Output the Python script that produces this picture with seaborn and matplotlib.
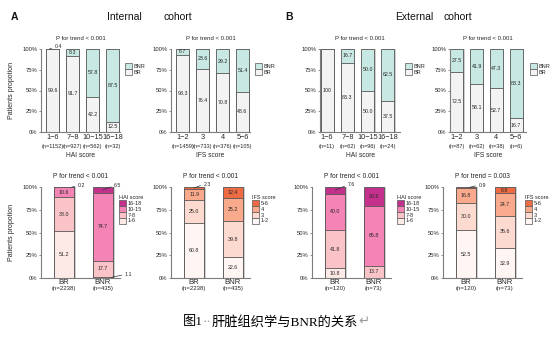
import numpy as np
import pandas as pd
import matplotlib
matplotlib.use("Agg")
import matplotlib.pyplot as plt
from matplotlib.patches import Patch
import seaborn as sns

# ---------------- data ----------------
hai_groups = ["1−6", "7−8", "10−15", "16−18"]
ifs_groups = ["1−2", "3", "4", "5−6"]

int_hai_n = [1152, 927, 562, 32]
int_hai_bnr = [0.4, 8.3, 57.8, 87.5]
int_hai_br = [99.6, 91.7, 42.2, 12.5]

int_ifs_n = [1459, 733, 376, 105]
int_ifs_bnr = [6.7, 23.6, 29.2, 51.4]
int_ifs_br = [93.3, 76.4, 70.8, 48.6]

ext_hai_n = [11, 62, 96, 24]
ext_hai_bnr = [0.0, 16.7, 50.0, 62.5]
ext_hai_br = [100.0, 83.3, 50.0, 37.5]

ext_ifs_n = [87, 62, 38, 6]
ext_ifs_bnr = [27.5, 41.9, 47.3, 83.3]
ext_ifs_br = [72.5, 58.1, 52.7, 16.7]

response_groups = ["BR", "BNR"]
int_response_n = [2238, 435]
ext_response_n = [120, 73]

hai_levels = ["1-6", "7-8", "10-15", "16-18"]
ifs_levels = ["1-2", "3", "4", "5-6"]

# share of each score level (lowest level first) within BR / BNR
int_hai_levels_br = [51.2, 38.0, 10.6, 0.2]
int_hai_levels_bnr = [1.1, 17.7, 74.7, 6.5]
int_ifs_levels_br = [60.8, 25.0, 11.9, 2.3]
int_ifs_levels_bnr = [22.6, 39.8, 25.2, 12.4]
ext_hai_levels_br = [10.8, 41.8, 40.0, 7.6]
ext_hai_levels_bnr = [0.0, 13.7, 65.8, 20.5]
ext_ifs_levels_br = [52.5, 30.0, 16.8, 0.9]
ext_ifs_levels_bnr = [32.9, 35.6, 24.7, 6.8]

p_texts = ["P for trend < 0.001", "P for trend < 0.001", "P for trend < 0.001", "P for trend < 0.001",
           "P for trend < 0.001", "P for trend < 0.001", "P for trend < 0.001", "P for trend = 0.003"]

# ---------------- style ----------------
sns.set_theme(style="ticks")
plt.rcParams["font.family"] = ["Liberation Sans", "Noto Sans CJK SC", "DejaVu Sans"]

EDGE = "#565656"
SPINE = "#7d7d7d"
TXT = "#262626"
SHADOW = "#cfcfcf"
C_BNR = "#c8e9e3"
C_BR = "#f3f3f3"
HAI_COLORS = ["#fde9e6", "#f9c3c8", "#f483b6", "#c3318c"]
IFS_COLORS = ["#fff5f2", "#fddacf", "#f9aa8c", "#ee6b44"]

W, H = 554, 341
fig = plt.figure(figsize=(W / 100, H / 100), dpi=100)


def px_axes(left, top, right, bottom):
    return fig.add_axes([left / W, 1 - bottom / H, (right - left) / W, (bottom - top) / H])


def fmt(v):
    return "100" if v >= 100 else f"{v:.1f}"


def style_axes(ax, xlim):
    ax.set_xlim(*xlim)
    ax.set_ylim(0, 100)
    sns.despine(ax=ax)
    for s in ("left", "bottom"):
        ax.spines[s].set_color(SPINE)
        ax.spines[s].set_linewidth(0.8)
    ax.set_yticks([0, 25, 50, 75, 100])
    ax.set_yticklabels(["0%", "25%", "50%", "75%", "100%"])
    ax.tick_params(axis="y", length=1.6, width=0.6, color=SPINE, pad=1, labelsize=4.2, labelcolor=TXT)
    ax.set_xlabel("")
    ax.set_ylabel("")


def add_legend(x, y, labels, colors, title=None):
    handles = [Patch(facecolor=c, edgecolor=EDGE, linewidth=0.5) for c in colors]
    fig.legend(handles=handles, labels=labels, loc="upper left",
               bbox_to_anchor=(x / W, 1 - y / H), bbox_transform=fig.transFigure,
               frameon=False, borderpad=0, borderaxespad=0, handletextpad=0.4,
               labelspacing=0, handlelength=1.2, handleheight=1.25,
               prop={"size": 4}, title=title, title_fontproperties={"size": 4},
               alignment="left", labelcolor=TXT)


def callout(ax, text, xy, xytext):
    ax.annotate(text, xy=xy, xytext=xytext, fontsize=3.8, color=TXT, ha="left", va="center",
                annotation_clip=False,
                arrowprops=dict(arrowstyle="-", lw=0.5, color="#333333",
                                shrinkA=0, shrinkB=0, relpos=(0, 0.5)))


def top_panel(box, xlim, cats, ns, br, bnr, xlabel, p_text, legend_xy, callouts=None):
    ax = px_axes(*box)
    total = np.add(br, bnr)
    df = pd.DataFrame({"group": cats, "total": total, "br": br})
    bar_kw = dict(edgecolor=EDGE, linewidth=0.6, width=0.65, saturation=1,
                  errorbar=None, clip_on=False, ax=ax)
    sns.barplot(data=df, x="group", y="total", color=C_BNR, **bar_kw)
    sns.barplot(data=df, x="group", y="br", color=C_BR, **bar_kw)
    x = np.arange(len(cats))
    ax.bar(x + 0.07, total, width=0.65, color=SHADOW, linewidth=0, zorder=0.5)
    style_axes(ax, xlim)
    ax.set_xticks(x)
    ax.set_xticklabels(cats)
    ax.tick_params(axis="x", length=0, pad=1.5, labelsize=5.3, labelcolor=TXT)
    callouts = callouts or {}
    for i in range(len(cats)):
        segs = [(br[i], br[i] / 2, 0), (bnr[i], br[i] + bnr[i] / 2, 1)]
        for v, yc, k in segs:
            if v == 0:
                continue
            if (i, k) in callouts:
                (xa, ya), (xt, yt) = callouts[(i, k)]
                callout(ax, fmt(v), (i + xa, ya), (i + xt, yt))
            else:
                ax.text(i, yc, fmt(v), ha="center", va="center", fontsize=3.8, color=TXT)
        ax.text(i, -0.17, f"(n={ns[i]})", transform=ax.get_xaxis_transform(),
                ha="center", va="center", fontsize=4.1, color=TXT)
    ax.text(0.5, -0.28, xlabel, transform=ax.transAxes, ha="center", va="center",
            fontsize=4.8, color=TXT)
    ax.text(0.5, 1.13, p_text, transform=ax.transAxes, ha="center", va="center",
            fontsize=4.3, color=TXT)
    add_legend(legend_xy[0], legend_xy[1], ["BNR", "BR"], [C_BNR, C_BR])
    return ax


def bottom_panel(box, xlim, lv_br, lv_bnr, ns, level_names, colors, legend_title,
                 p_text, legend_xy, callouts):
    ax = px_axes(*box)
    data = np.array([lv_br, lv_bnr])
    cum = np.cumsum(data, axis=1)
    bar_kw = dict(edgecolor=EDGE, linewidth=0.6, width=0.52, saturation=1,
                  errorbar=None, clip_on=False, ax=ax)
    # stack by drawing cumulative heights from the top level downwards
    for k in range(data.shape[1] - 1, -1, -1):
        df = pd.DataFrame({"resp": response_groups, "h": cum[:, k]})
        sns.barplot(data=df, x="resp", y="h", color=colors[k], **bar_kw)
    x = np.arange(len(response_groups))
    ax.bar(x + 0.05, cum[:, -1], width=0.52, color=SHADOW, linewidth=0, zorder=0.5)
    style_axes(ax, xlim)
    ax.set_xticks(x)
    ax.set_xticklabels(response_groups)
    ax.tick_params(axis="x", length=0, pad=0.8, labelsize=5.6, labelcolor=TXT)
    for i in range(data.shape[0]):
        for k in range(data.shape[1]):
            v = data[i, k]
            if v == 0:
                continue
            yc = cum[i, k] - v / 2
            if (i, k) in callouts:
                xa, (xt, yt) = callouts[(i, k)]
                callout(ax, fmt(v), (i + xa, yc), (i + xt, yt))
            else:
                ax.text(i, yc, fmt(v), ha="center", va="center", fontsize=3.8, color=TXT)
        ax.text(i, -0.12, f"(n={ns[i]})", transform=ax.get_xaxis_transform(),
                ha="center", va="center", fontsize=4.3, color=TXT)
    ax.text(0.5, 1.12, p_text, transform=ax.transAxes, ha="center", va="center",
            fontsize=4.8, color=TXT)
    add_legend(legend_xy[0], legend_xy[1], level_names[::-1], colors[::-1], title=legend_title)
    return ax


TOP = (49, 132)
BOT = (187, 278)
xl_top_a = (-0.575, 3.375)
xl_top_b = (-0.35, 3.6)
xl_bot = (-0.6, 1.45)

top_panel((41, TOP[0], 120, TOP[1]), xl_top_a, hai_groups, int_hai_n, int_hai_br, int_hai_bnr,
          "HAI score", p_texts[0], (125, 63),
          callouts={(0, 1): ((-0.15, 100), (0.12, 102.5))})
top_panel((171, TOP[0], 250, TOP[1]), xl_top_a, ifs_groups, int_ifs_n, int_ifs_br, int_ifs_bnr,
          "IFS score", p_texts[1], (255, 63))
top_panel((320, TOP[0], 400, TOP[1]), xl_top_b, hai_groups, ext_hai_n, ext_hai_br, ext_hai_bnr,
          "HAI score", p_texts[2], (405, 63))
top_panel((450, TOP[0], 526, TOP[1]), (-0.35, 3.5), ifs_groups, ext_ifs_n, ext_ifs_br, ext_ifs_bnr,
          "IFS score", p_texts[3], (530, 63))

bottom_panel((41, BOT[0], 120, BOT[1]), xl_bot, int_hai_levels_br, int_hai_levels_bnr,
             int_response_n, hai_levels, HAI_COLORS, "HAI score", p_texts[4], (119, 195),
             {(0, 3): (0.2, (0.36, 101.5)), (1, 3): (0.0, (0.3, 101.5)),
              (1, 0): (0.22, (0.58, 4.0))})
bottom_panel((171, BOT[0], 250, BOT[1]), xl_bot, int_ifs_levels_br, int_ifs_levels_bnr,
             int_response_n, ifs_levels, IFS_COLORS, "IFS score", p_texts[5], (252, 195),
             {(0, 3): (0.0, (0.25, 103))})
bottom_panel((312, BOT[0], 391, BOT[1]), xl_bot, ext_hai_levels_br, ext_hai_levels_bnr,
             ext_response_n, hai_levels, HAI_COLORS, "HAI score", p_texts[6], (397, 195),
             {(0, 3): (0.0, (0.33, 102.5))})
bottom_panel((443, BOT[0], 522, BOT[1]), xl_bot, ext_ifs_levels_br, ext_ifs_levels_bnr,
             ext_response_n, ifs_levels, IFS_COLORS, "IFS score", p_texts[7], (525, 195),
             {(0, 3): (0.1, (0.33, 102))})

# y-axis titles
for yc in ((TOP[0] + TOP[1]) / 2, (BOT[0] + BOT[1]) / 2):
    fig.text(12 / W, 1 - yc / H, "Patients propotion", rotation=90, ha="center", va="center",
             fontsize=5, color=TXT)

# panel tags and cohort headings
fig.text(11 / W, 1 - 17 / H, "A", fontsize=7.5, fontweight="bold", ha="left", va="center", color="#111111")
fig.text(285 / W, 1 - 17 / H, "B", fontsize=7.5, fontweight="bold", ha="left", va="center", color="#111111")
fig.text(107 / W, 1 - 17 / H, "Internal", fontsize=7.5, ha="left", va="center", color="#111111")
fig.text(163 / W, 1 - 17 / H, "cohort", fontsize=7.5, ha="left", va="center", color="#111111")
fig.text(395 / W, 1 - 17 / H, "External", fontsize=7.5, ha="left", va="center", color="#111111")
fig.text(443 / W, 1 - 17 / H, "cohort", fontsize=7.5, ha="left", va="center", color="#111111")

# figure caption, written piece by piece so the layout marks can be grey
caption_parts = [("图1", "black"), ("··", "#9a9a9a"), ("肝脏组织学与BNR的关系", "black"), ("↵", "#9a9a9a")]
cap_family = ["Liberation Serif", "Noto Sans CJK SC", "DejaVu Sans"]
renderer = fig.canvas.get_renderer()
pieces = []
for s, c in caption_parts:
    t = fig.text(0, 1 - 322 / H, s, ha="left", va="center", fontsize=9.5, color=c, family=cap_family)
    pieces.append(t)
widths = [t.get_window_extent(renderer).width for t in pieces]
x0 = 276 - sum(widths) / 2
for t, w in zip(pieces, widths):
    t.set_x(x0 / W)
    x0 += w

fig.savefig("out.png", dpi=100)
